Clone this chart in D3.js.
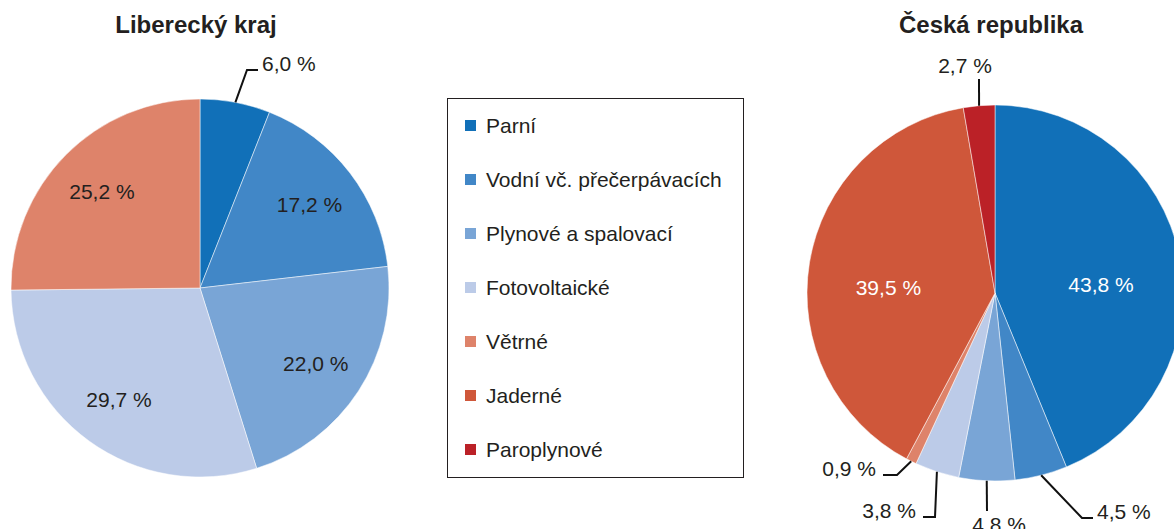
<!DOCTYPE html>
<html>
<head>
<meta charset="utf-8">
<script src="https://cdn.jsdelivr.net/npm/d3@7"></script>
<style>
  body { margin: 0; background: #fff; }
  svg { display: block; font-family: "Liberation Sans", Arial, sans-serif; }
</style>
</head>
<body>
<svg id="chart" width="1174" height="529"></svg>
<script>
// categories and colours
var categories = ["Parní", "Vodní vč. přečerpávacích", "Plynové a spalovací",
    "Fotovoltaické", "Větrné", "Jaderné", "Paroplynové"];
var colors = ["#1170b8", "#4187c7", "#79a5d6", "#bccbe8", "#de836a", "#cf573a", "#bb2127"];

// shares in %
var liberecValues = [6.0, 17.2, 22.0, 29.7, 25.2, 0, 0];
var czValues = [43.8, 4.5, 4.8, 3.8, 0.9, 39.5, 2.7];

var svg = d3.select("#chart");
var textColor = "#231f20";

var color = d3.scaleOrdinal().domain(categories).range(colors);

// which labels sit outside with a leader: [category index, elbow dx, elbow dy, end dx, anchor]
var liberecLeaders = [[0, 47, -218, 58, "start"]];
var czLeaders = [
    [1, 87, 225, 98, "start"],
    [2, -8, 218, -8, "middle"],
    [3, -60, 224, -72, "end"],
    [4, -98, 182, -112, "end"],
    [6, -16, -214, -16, "middle"]
];

var fmt = function(v) { return v.toFixed(1).replace(".", ",") + " %"; };

function drawPie(opts) {
    var g = svg.append("g")
        .attr("transform", "translate(" + opts.cx + "," + opts.cy + ")");

    var data = opts.values.map(function(v, i) { return {name: categories[i], value: v, i: i}; });

    var pie = d3.pie().sort(null).value(function(d) { return d.value; });
    var arcs = pie(data).filter(function(d) { return d.data.value > 0; });

    var arc = d3.arc().innerRadius(0).outerRadius(opts.r);
    var labelArc = d3.arc().innerRadius(opts.labelR).outerRadius(opts.labelR);
    var edgeArc = d3.arc().innerRadius(opts.r).outerRadius(opts.r);

    g.selectAll("path.slice")
        .data(arcs)
        .enter()
        .append("path")
        .attr("class", "slice")
        .attr("d", arc)
        .attr("fill", function(d) { return color(d.data.name); })
        .attr("stroke", "#fff")
        .attr("stroke-width", 0.5);

    var leaderIdx = opts.leaders.map(function(l) { return l[0]; });

    // labels inside the slices
    g.selectAll("text.inner")
        .data(arcs.filter(function(d) { return leaderIdx.indexOf(d.data.i) < 0; }))
        .enter()
        .append("text")
        .attr("class", "inner")
        .attr("transform", function(d) {
            var c = labelArc.centroid(d);
            return "translate(" + c[0] + "," + (c[1] + opts.labelShift) + ")";
        })
        .attr("text-anchor", "middle")
        .attr("dy", "0.36em")
        .attr("font-size", "21px")
        .attr("fill", opts.innerColor)
        .text(function(d) { return fmt(d.data.value); });

    // leader lines + outside labels
    opts.leaders.forEach(function(l) {
        var d = arcs.filter(function(a) { return a.data.i == l[0]; })[0];
        var start = edgeArc.centroid(d);
        var pts = [start, [l[1], l[2]], [l[3], l[2]]];
        g.append("path")
            .attr("d", d3.line()(pts))
            .attr("fill", "none")
            .attr("stroke", "#111")
            .attr("stroke-width", 2);

        var tx, ty;
        if (l[4] == "start") { tx = l[3] + 4; ty = l[2] + 1; }
        else if (l[4] == "end") { tx = l[3] - 7; ty = l[2] + 1; }
        else if (l[2] > 0) { tx = l[1] + 12; ty = l[2] + 21; }
        else { tx = l[1] - 14; ty = l[2] - 6; }

        g.append("text")
            .attr("x", tx)
            .attr("y", ty)
            .attr("text-anchor", l[4])
            .attr("font-size", "21px")
            .attr("fill", textColor)
            .text(fmt(d.data.value));
    });

    svg.append("text")
        .attr("x", opts.titleX)
        .attr("y", 33)
        .attr("text-anchor", "middle")
        .attr("font-size", "24px")
        .attr("font-weight", "bold")
        .attr("fill", textColor)
        .text(opts.title);
}

drawPie({
    title: "Liberecký kraj", titleX: 196,
    values: liberecValues, cx: 200, cy: 288, r: 189, labelR: 138, labelShift: 0,
    innerColor: textColor, leaders: liberecLeaders
});

drawPie({
    title: "Česká republika", titleX: 991,
    values: czValues, cx: 995, cy: 293, r: 188, labelR: 108, labelShift: 12,
    innerColor: "#fff", leaders: czLeaders
});

// legend
var legend = svg.append("g").attr("transform", "translate(447,98)");

legend.append("rect")
    .attr("x", 0.5)
    .attr("y", 0.5)
    .attr("width", 296)
    .attr("height", 379)
    .attr("fill", "none")
    .attr("stroke", "#231f20")
    .attr("stroke-width", 1);

var rowY = d3.scalePoint().domain(categories).range([27, 351]);

var item = legend.selectAll("g.item")
    .data(categories)
    .enter()
    .append("g")
    .attr("class", "item")
    .attr("transform", function(d) { return "translate(0," + rowY(d) + ")"; });

item.append("rect")
    .attr("x", 18)
    .attr("y", -5)
    .attr("width", 11)
    .attr("height", 11)
    .attr("fill", function(d) { return color(d); });

item.append("text")
    .attr("x", 39)
    .attr("y", 0)
    .attr("dy", "0.36em")
    .attr("font-size", "21px")
    .attr("fill", textColor)
    .text(function(d) { return d; });
</script>
</body>
</html>
